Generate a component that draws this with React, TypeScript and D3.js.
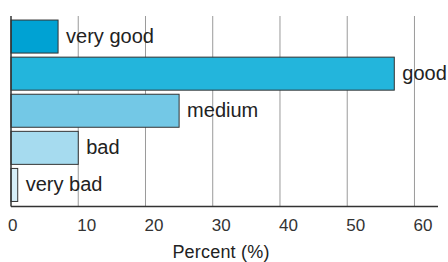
import React from 'react';
import * as d3 from 'd3';

const categories = ['very good', 'good', 'medium', 'bad', 'very bad'];
const percents = [7, 57, 25, 10, 1];
const barColors = ['#00a2d3', '#23b5dc', '#73c8e6', '#a6dbef', '#d6eef8'];
const tickValues = [0, 10, 20, 30, 40, 50, 60];
const axisTitle = 'Percent (%)';

const W = 448;
const H = 262;
const FONT = '"Liberation Sans", Arial, sans-serif';

export default function App() {
  const x = d3.scaleLinear().domain([0, 63.5]).range([11, 438]);
  const y = d3.scaleBand<string>()
    .domain(categories)
    .range([18, 203.5])
    .paddingInner(0.11)
    .paddingOuter(0.055);

  const top = 16;
  const base = 206.5;

  return (
    <div style={{ position: 'fixed', left: 0, top: 0 }}>
      <svg width={W} height={H} style={{ display: 'block', background: '#fff' }}>
        {/* grid */}
        {tickValues.filter(t => t > 0).map(t => (
          <line key={'g' + t} x1={x(t)} x2={x(t)} y1={top} y2={base}
            stroke="#9a9a9a" strokeWidth={1} />
        ))}

        {/* bars */}
        {categories.map((c, i) => (
          <rect key={c}
            x={x(0)} y={y(c)}
            width={x(percents[i]) - x(0)} height={y.bandwidth()}
            fill={barColors[i]} stroke="#333" strokeWidth={1} />
        ))}

        {/* bar labels */}
        {categories.map((c, i) => (
          <text key={'l' + c}
            x={x(percents[i]) + 8} y={(y(c) ?? 0) + y.bandwidth() / 2}
            dy="0.3em" fontFamily={FONT} fontSize={20} fill="#222">
            {c}
          </text>
        ))}

        {/* axes */}
        <line x1={x(0)} x2={x(0)} y1={top} y2={base} stroke="#333" strokeWidth={1.5} />
        <line x1={x(0)} x2={x.range()[1]} y1={base} y2={base} stroke="#333" strokeWidth={1.5} />

        {tickValues.map(t => (
          <text key={'t' + t} x={x(t) + (t === 0 ? -3 : -1)} y={230.5}
            fontFamily={FONT} fontSize={17} fill="#333" textAnchor="start">
            {t}
          </text>
        ))}

        <text x={221} y={257.5} textAnchor="middle" fontFamily={FONT} fontSize={18}
          fill="#222" letterSpacing={0.2}>
          {axisTitle}
        </text>
      </svg>
    </div>
  );
}
